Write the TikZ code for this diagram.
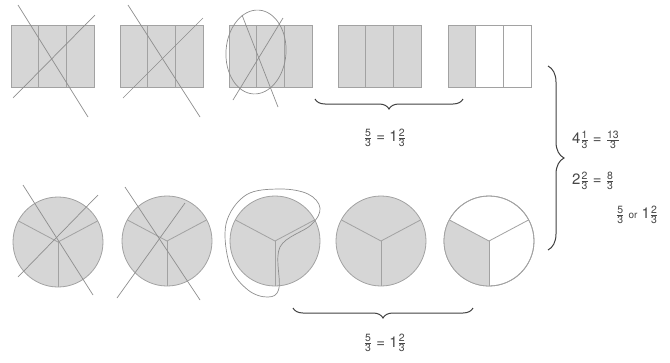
\documentclass[tikz,border=0pt]{standalone}
\usepackage{fontspec}
\setmainfont{TeX Gyre Heros}
\usepackage{amsmath}
\usetikzlibrary{decorations.pathreplacing}
\newcommand\fr[2]{$\tfrac{\text{#1}}{\text{#2}}$}
\definecolor{partfill}{HTML}{D6D6D6}
\definecolor{edge}{HTML}{A2A2A2}
\definecolor{pen}{HTML}{8E8E8E}
\tikzset{
  part/.style={fill=partfill, draw=edge, line width=0.8pt},
  emptypart/.style={fill=white, draw=edge, line width=0.8pt},
  divider/.style={draw=edge, line width=0.8pt},
  crossout/.style={draw=pen, line width=0.7pt},
  lasso/.style={draw=pen, line width=0.7pt},
  bracebig/.style={draw=black!75, line width=1pt, decorate, decoration={brace, amplitude=10pt, aspect=0.5}},
  lbl/.style={font=\fontsize{15}{18}\selectfont, text=black!72, inner sep=1pt}
}
\begin{document}
\begin{tikzpicture}[x=1pt, y=-1pt]
\useasboundingbox (0,0) rectangle (670,362);
% ---------- rectangles ----------
\foreach \xa in {11,120,229,338}{
  \draw[part] (\xa,25) rectangle ++(83,62);
  \draw[divider] (\xa+27.7,25) -- (\xa+27.7,87);
  \draw[divider] (\xa+55.3,25) -- (\xa+55.3,87);
}
\draw[emptypart] (448,25) rectangle (531,87);
\fill[partfill] (448,25) rectangle (475.7,87);
\draw[divider] (448,25) rectangle (531,87);
\draw[divider] (475.7,25) -- (475.7,87);
\draw[divider] (503.3,25) -- (503.3,87);
% cross-outs on rectangles
\draw[crossout] (18,5) -- (88,117);
\draw[crossout] (13,98) -- (95,15);
\draw[crossout] (128,5) -- (200,117);
\draw[crossout] (123,98) -- (203,18);
\draw[crossout] (242,15) -- (278,107);
\draw[crossout] (233,100) -- (283,18);
\draw[lasso, rotate around={-4:(256,52)}] (256,52) ellipse[x radius=30pt, y radius=42pt];
% ---------- circles ----------
\foreach \cx/\cy [count=\i] in {58/242,167/241,275/241,381/241}{
  \coordinate (c\i) at (\cx,\cy);
  \draw[part] (c\i) circle[radius=45pt];
  \draw[divider] (c\i) -- ++(152:45pt);
  \draw[divider] (c\i) -- ++(28:45pt);
  \draw[divider] (c\i) -- ++(270:45pt);
}
\coordinate (c5) at (489,241);
\draw[emptypart] (c5) circle[radius=45pt];
\fill[partfill] (c5) -- ++(152:45pt) arc[start angle=152, end angle=270, radius=45pt] -- cycle;
\draw[divider] (c5) circle[radius=45pt];
\draw[divider] (c5) -- ++(152:45pt);
\draw[divider] (c5) -- ++(28:45pt);
\draw[divider] (c5) -- ++(270:45pt);
% cross-outs on circles
\draw[crossout] (23,185) -- (93,295);
\draw[crossout] (18,277) -- (98,195);
\draw[crossout] (125,187) -- (200,300);
\draw[crossout] (117,298) -- (185,203);
% lasso around circle 3
\draw[lasso] plot[smooth cycle, tension=0.6] coordinates {(279,288) (280,247) (311,225) (320,208) (308,194) (280,189) (246,195) (226,224) (230,266) (248,290) (268,297)};
% ---------- braces ----------
\coordinate (b1s) at (315,99);
\coordinate (b1e) at (463,99);
\draw[bracebig, decoration={mirror}] (b1s) -- (b1e);
\coordinate (b2s) at (293,308);
\coordinate (b2e) at (473,308);
\draw[bracebig, decoration={mirror}] (b2s) -- (b2e);
\coordinate (b3s) at (548,66);
\coordinate (b3e) at (548,250);
\draw[bracebig, decoration={amplitude=16pt}] (b3s) -- (b3e);
% ---------- labels ----------
\node[lbl] (l1) at (385,138) {\fr{5}{3} = 1\fr{2}{3}};
\node[lbl] (l2) at (385,343) {\fr{5}{3} = 1\fr{2}{3}};
\node[lbl, anchor=west] (l3) at (571,140) {4\fr{1}{3} = \fr{13}{3}};
\node[lbl, anchor=west] (l4) at (571,181) {2\fr{2}{3} = \fr{8}{3}};
\node[lbl, anchor=west] (l5) at (615,215) {\fr{5}{3} {\fontsize{10}{12}\selectfont or} 1\fr{2}{3}};
\end{tikzpicture}
\end{document}
